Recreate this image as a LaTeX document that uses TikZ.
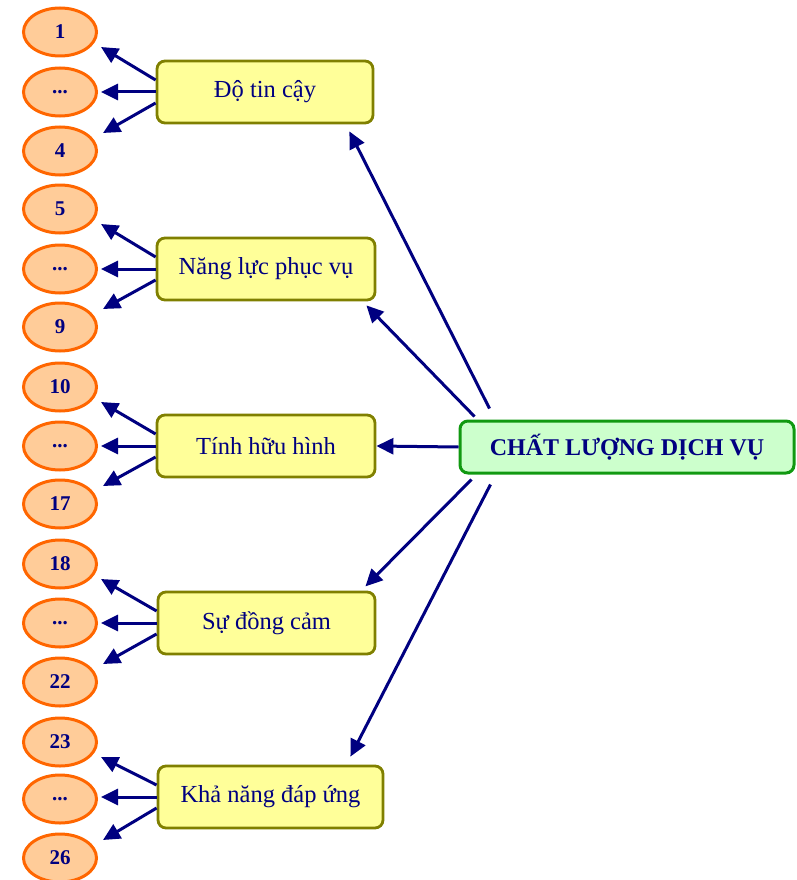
\documentclass[tikz,border=0pt]{standalone}
\usepackage{fontspec}
\setmainfont{Liberation Serif}
\usetikzlibrary{shapes.geometric,arrows.meta,calc}
\definecolor{navy}{HTML}{000080}
\definecolor{boxfill}{HTML}{FFFF99}
\definecolor{boxline}{HTML}{808000}
\definecolor{elfill}{HTML}{FFCC99}
\definecolor{elline}{HTML}{FF6600}
\definecolor{mainfill}{HTML}{CCFFCC}
\definecolor{mainline}{HTML}{119911}
\tikzset{
  catbox/.style={draw=boxline, fill=boxfill, line width=2.8pt, rounded corners=8pt,
    minimum width=216pt, minimum height=62pt, text=navy, font=\fontsize{24.5}{27}\selectfont, inner sep=0pt},
  item/.style={ellipse, draw=elline, fill=elfill, line width=3pt, minimum width=73pt,
    minimum height=48pt, inner sep=0pt, text=navy, font=\fontsize{21}{23}\selectfont\bfseries},
  mainbox/.style={draw=mainline, fill=mainfill, line width=3pt, rounded corners=8pt,
    minimum width=334pt, minimum height=52pt, text=navy, font=\fontsize{24}{27}\selectfont\bfseries, inner sep=0pt},
  arr/.style={navy, line width=3pt, -{Triangle[length=17pt,width=16pt]}}
}
\begin{document}
\begin{tikzpicture}[x=1pt,y=-1pt]
\useasboundingbox (0,0) rectangle (796,880);
\node[mainbox] (m) at (627,447) {CHẤT LƯỢNG DỊCH VỤ};
\node[catbox] (b1) at (265,92) {Độ tin cậy};
\node[catbox, minimum width=218pt] (b2) at (266,269) {Năng lực phục vụ};
\node[catbox, minimum width=218pt] (b3) at (266,446) {Tính hữu hình};
\node[catbox, minimum width=217pt] (b4) at (266.5,623) {Sự đồng cảm};
\node[catbox, minimum width=225pt] (b5) at (270.5,797) {Khả năng đáp ứng};
% ellipses
\node[item] (e1) at (60,32) {1};
\node[item] (e2) at (60,92) {...};
\node[item] (e3) at (60,151) {4};
\node[item] (e4) at (60,209) {5};
\node[item] (e5) at (60,269) {...};
\node[item] (e6) at (60,327) {9};
\node[item] (e7) at (60,387) {10};
\node[item] (e8) at (60,446) {...};
\node[item] (e9) at (60,504) {17};
\node[item] (e10) at (60,564) {18};
\node[item] (e11) at (60,623) {...};
\node[item] (e12) at (60,682) {22};
\node[item] (e13) at (60,742) {23};
\node[item] (e14) at (60,799) {...};
\node[item] (e15) at (60,858) {26};
% main arrows
\draw[arr] ($(m.north west)+(31,-11)$) -- ($(b1.south east)+(-25,7)$);
\draw[arr] ($(m.north west)+(16,-3)$) -- ($(b2.south east)+(-10,4)$);
\draw[arr] (m.west) -- (b3.east);
\draw[arr] ($(m.south west)+(13,5)$) -- ($(b4.south east)+(-11,-69)$);
\draw[arr] ($(m.south west)+(32,10)$) -- ($(b5.north east)+(-34,-8)$);
% item arrows
\foreach \b/\a/\c/\d in {b1/e1/e2/e3, b2/e4/e5/e6, b3/e7/e8/e9, b4/e10/e11/e12, b5/e13/e14/e15}{
  \draw[arr] ($(\b.west)+(0,-12)$) -- ($(\a.east)+(3,15)$);
  \draw[arr] (\b.west) -- ($(\b.west -| \c.east)+(3,0)$);
  \draw[arr] ($(\b.west)+(0,11)$) -- ($(\d.east)+(5,-18)$);
}
\end{tikzpicture}
\end{document}
